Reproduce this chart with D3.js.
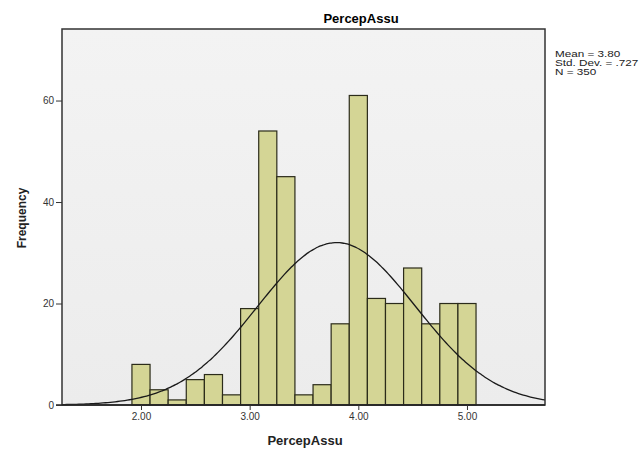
<!DOCTYPE html>
<html>
<head>
<meta charset="utf-8">
<script src="https://cdn.jsdelivr.net/npm/d3@7"></script>
<style>
  body { margin: 0; background: #fff; }
  text { font-family: Arial, "Liberation Sans", sans-serif; }
</style>
</head>
<body>
<div id="chart"></div>
<script>
// histogram data
var binCenters = [2.0, 2.1667, 2.3333, 2.5, 2.6667, 2.8333, 3.0, 3.1667, 3.3333, 3.5,
                  3.6667, 3.8333, 4.0, 4.1667, 4.3333, 4.5, 4.6667, 4.8333, 5.0];
var counts = [8, 3, 1, 5, 6, 2, 19, 54, 45, 2, 4, 16, 61, 21, 20, 27, 16, 20, 20];
var binWidth = 1 / 6;
var xTicks = [2, 3, 4, 5];
var yTicks = [0, 20, 40, 60];
var mean = 3.80, sd = 0.727, n = 350;
var statLines = ["Mean = 3.80", "Std. Dev. = .727", "N = 350"];

var width = 644, height = 453;
var margin = {top: 29, left: 62, right: 99, bottom: 48};
var w = width - margin.left - margin.right;
var h = height - margin.top - margin.bottom;

var svg = d3.select("#chart").append("svg")
    .attr("width", width)
    .attr("height", height);

var x = d3.scaleLinear().domain([1.273, 5.718]).range([0, w]);
var y = d3.scaleLinear().domain([0, 74.1]).range([h, 0]);

var g = svg.append("g").attr("transform", "translate(" + margin.left + "," + margin.top + ")");

// plot background
var grad = svg.append("defs").append("linearGradient")
    .attr("id", "bg").attr("x1", 0).attr("y1", 0).attr("x2", 0).attr("y2", 1);
grad.append("stop").attr("offset", "0%").attr("stop-color", "#f3f3f3");
grad.append("stop").attr("offset", "100%").attr("stop-color", "#ececec");

g.append("rect")
    .attr("width", w).attr("height", h)
    .attr("fill", "url(#bg)");

// bars
g.selectAll("rect.bar")
    .data(counts)
    .enter()
    .append("rect")
    .attr("class", "bar")
    .attr("x", (d, i) => x(binCenters[i] - binWidth / 2))
    .attr("y", d => y(d))
    .attr("width", (d, i) => x(binCenters[i] + binWidth / 2) - x(binCenters[i] - binWidth / 2))
    .attr("height", d => h - y(d))
    .attr("fill", "#d4d595")
    .attr("stroke", "#2b2b1a")
    .attr("stroke-width", 1.2);

// normal curve from mean / sd / N
var curveX = d3.range(0, 201).map(i => x.domain()[0] + (x.domain()[1] - x.domain()[0]) * i / 200);
var line = d3.line()
    .x(d => x(d))
    .y(d => y(n * binWidth * Math.exp(-0.5 * Math.pow((d - mean) / sd, 2)) / (sd * Math.sqrt(2 * Math.PI))))
    .curve(d3.curveBasis);
g.append("path")
    .datum(curveX)
    .attr("d", line)
    .attr("fill", "none")
    .attr("stroke", "#1a1a1a")
    .attr("stroke-width", 1.3);

// frame
g.append("rect")
    .attr("width", w).attr("height", h)
    .attr("fill", "none")
    .attr("stroke", "#333")
    .attr("stroke-width", 1.5);

// axes
var xAxis = g.append("g")
    .attr("transform", "translate(0," + h + ")")
    .call(d3.axisBottom(x).tickValues(xTicks).tickFormat(d3.format(".2f")).tickSize(5).tickPadding(3));
var yAxis = g.append("g")
    .call(d3.axisLeft(y).tickValues(yTicks).tickSize(6).tickPadding(2));
[xAxis, yAxis].forEach(function(a) {
    a.select(".domain").attr("stroke", "#222").attr("stroke-width", 1.5);
    a.selectAll(".tick line").attr("stroke", "#333");
    a.selectAll(".tick text").attr("fill", "#333").style("font-size", "10px");
});
yAxis.select(".domain").remove();
xAxis.select(".domain").attr("d", "M-6,0H" + w);

// title and axis labels
svg.append("text")
    .attr("x", 361).attr("y", 23)
    .attr("text-anchor", "middle")
    .style("font-size", "13px").style("font-weight", "bold")
    .text("PercepAssu");

svg.append("text")
    .attr("x", 305).attr("y", 445)
    .attr("text-anchor", "middle")
    .style("font-size", "13px").style("font-weight", "bold")
    .attr("fill", "#222")
    .text("PercepAssu");

svg.append("text")
    .attr("transform", "translate(26,218) rotate(-90)")
    .attr("text-anchor", "middle")
    .style("font-size", "12px").style("font-weight", "bold")
    .attr("fill", "#222")
    .text("Frequency");

// stats text, a bit wide like the original
svg.selectAll("text.stat")
    .data(statLines)
    .enter()
    .append("text")
    .attr("class", "stat")
    .attr("x", 555)
    .attr("y", (d, i) => 57 + i * 8.8)
    .style("font-size", "9px")
    .attr("fill", "#222")
    .text(d => d)
    .each(function() {
        var len = this.getComputedTextLength();
        d3.select(this).attr("textLength", len * 1.3).attr("lengthAdjust", "spacingAndGlyphs");
    });
</script>
</body>
</html>
